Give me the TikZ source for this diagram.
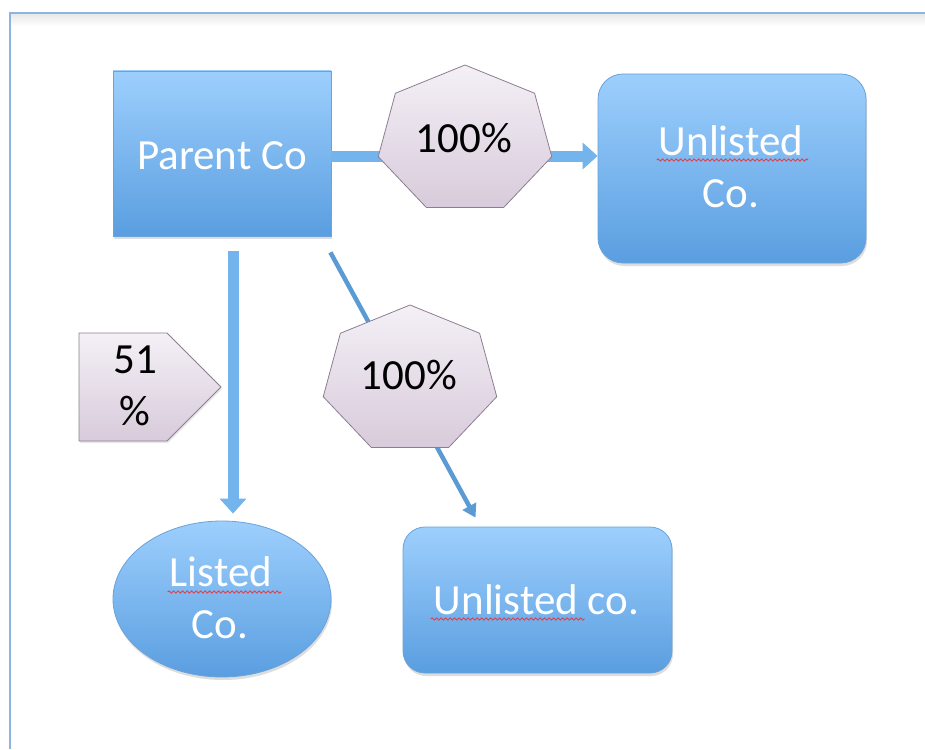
\documentclass[tikz,border=0pt]{standalone}
\usepackage{fontspec}
\setmainfont{Carlito}
\usetikzlibrary{shapes.geometric,shadows,decorations.pathmorphing,arrows.meta,calc}
\definecolor{bluetop}{HTML}{9DCFFD}
\definecolor{bluebot}{HTML}{5A9EE0}
\definecolor{blueline}{HTML}{6AA3DA}
\definecolor{arrowblue}{HTML}{74B4EC}
\definecolor{diagblue}{HTML}{5B9BD5}
\definecolor{heptop}{HTML}{F4F0F6}
\definecolor{hepbot}{HTML}{D8CBDB}
\definecolor{hepline}{HTML}{8E7D92}
\definecolor{framecol}{HTML}{8DB4E2}
\definecolor{spellred}{HTML}{E0404A}
\begin{document}
\begin{tikzpicture}[x=1pt,y=-1pt,
  bluebox/.style={draw=blueline, line width=0.8pt, top color=bluetop, bottom color=bluebot,
    inner sep=0pt, drop shadow={shadow xshift=1pt, shadow yshift=-3pt, opacity=0.22, fill=black!60}},
  wtext/.style={text=white, font=\fontsize{43}{52}\selectfont, inner sep=0pt, anchor=base},
  ktext/.style={text=black, font=\fontsize{43}{52}\selectfont, inner sep=0pt, anchor=base},
  tagfill/.style={draw=hepline, line width=0.8pt, top color=heptop, bottom color=hepbot},
  spell/.style={draw=spellred, line width=0.9pt, decorate,
    decoration={snake, amplitude=1.1pt, segment length=4.5pt}},
  blockarrow/.style={draw=arrowblue, line width=11pt, -{Triangle[width=26pt,length=15pt]}},
  thinarrow/.style={draw=diagblue, line width=4.5pt, -{Triangle[width=15pt,length=13pt]}},
  hept/.pic={\path[tagfill] (-90:89 and 75) -- (-38.57:89 and 75) -- (12.86:89 and 75)
     -- (64.29:89 and 75) -- (115.71:89 and 75) -- (167.14:89 and 75) -- (218.57:89 and 75) -- cycle;}
]
\useasboundingbox (0,0) rectangle (925,749);
\fill[white] (0,0) rectangle (925,749);
% frame
\shade[top color=black!9, bottom color=white] (11,14) rectangle (925,26);
\draw[framecol, line width=2pt] (10,749) -- (10,13) -- (925,13);

% boxes
\node[bluebox, rectangle, minimum width=218, minimum height=165] (parent) at (222,153.5) {};
\node[bluebox, rectangle, rounded corners=25pt, minimum width=268, minimum height=189] (unl1) at (732,168.5) {};
\node[bluebox, ellipse, minimum width=218, minimum height=156] (listed) at (222,599) {};
\node[bluebox, rectangle, rounded corners=22pt, minimum width=269, minimum height=146] (unl2) at (537.5,600) {};

% connectors
\draw[blockarrow] ([yshift=-2.5]parent.east) -- ([yshift=-2.5]parent.east -| unl1.west);
\draw[blockarrow] ([xshift=11,yshift=-15]parent.south) -- ([xshift=11,yshift=7]listed.north);
\draw[thinarrow] ([xshift=-1,yshift=-16]parent.south east) -- ([xshift=-62,yshift=9]unl2.north);

% heptagon labels
\pic at (465,140) {hept};
\pic at (410,380) {hept};
\node[ktext] (h1) at (464,152) {100\%};
\node[ktext] (h2) at (409,389) {100\%};

% 51% tag
\path[tagfill, drop shadow={shadow xshift=1pt, shadow yshift=-2pt, opacity=0.15, fill=black!60}]
  (79,333) -- (167,333) -- (221,387) -- (167,441) -- (79,441) -- cycle;
\node[ktext] (p1) at (135,373) {51};
\node[ktext] (p2) at (135,425) {\%};

% texts
\node[wtext] (tparent) at (222,169) {Parent Co};
\node[wtext] (tu1a) at (731,155) {Unlisted};
\node[wtext] (tu1b) at (731,207) {Co.};
\node[wtext] (tla) at (221,586) {Listed};
\node[wtext] (tlb) at (220,638) {Co.};
\node[wtext] (tu2) at (536.5,614) {Unlisted co.};

% spell-check underlines
\path[spell] ([xshift=-2,yshift=-5]tu1a.base west) -- ([xshift=5,yshift=-5]tu1a.base east);
\path[spell] ([xshift=-2,yshift=-6]tla.base west) -- ([xshift=9,yshift=-6]tla.base east);
\path[spell] ([xshift=-3,yshift=-5]tu2.base west) -- ([xshift=151,yshift=-5]tu2.base west);
\end{tikzpicture}
\end{document}
